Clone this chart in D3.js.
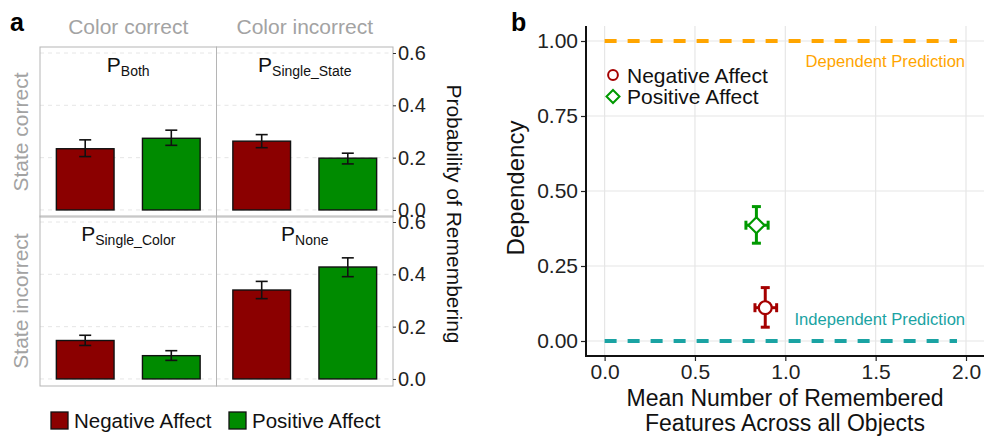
<!DOCTYPE html>
<html>
<head>
<meta charset="utf-8">
<script src="https://cdn.jsdelivr.net/npm/d3@7"></script>
<style>
  body { margin: 0; background: #fff; }
  svg { font-family: "Liberation Sans", Arial, sans-serif; }
</style>
</head>
<body>
<div id="viz"></div>
<script>
var width = 984;
var height = 438;

// ---- panel a data ----
var colFacets = ["Color correct", "Color incorrect"];
var rowFacets = ["State correct", "State incorrect"];
var groups = ["Negative Affect", "Positive Affect"];
var groupColors = ["#8b0000", "#008b00"];
// facet titles: letter + subscript (row-major order)
var cellNames = [
  ["P", "Both"], ["P", "Single_State"],
  ["P", "Single_Color"], ["P", "None"]
];
var cellMeans = [
  [0.234, 0.274],
  [0.263, 0.198],
  [0.147, 0.089],
  [0.340, 0.428]
];
var cellLow = [
  [0.204, 0.247],
  [0.238, 0.176],
  [0.128, 0.071],
  [0.307, 0.391]
];
var cellHigh = [
  [0.268, 0.305],
  [0.288, 0.217],
  [0.167, 0.108],
  [0.373, 0.463]
];
var probTicks = [0, 0.2, 0.4, 0.6];

// ---- panel b data ----
var affect = ["Negative Affect", "Positive Affect"];
var affectColors = ["#a50000", "#009900"];
var meanFeatures = [0.889, 0.84];
var featLow = [0.832, 0.782];
var featHigh = [0.952, 0.905];
var dependency = [0.111, 0.386];
var depLow = [0.046, 0.326];
var depHigh = [0.178, 0.448];
var depTicks = [0, 0.25, 0.5, 0.75, 1];
var featTicks = [0, 0.5, 1, 1.5, 2];
var predictions = ["Dependent Prediction", "Independent Prediction"];
var predValues = [1, 0];
var predColors = ["#ffa500", "#1aa3a3"];

var svg = d3.select("#viz").append("svg")
    .attr("width", width)
    .attr("height", height);

// ================= panel a =================
var panelLeft = 40, panelW = 176.5;
var rowTops = [47, 216], panelH = 170;

var x0 = d3.scaleBand().domain(groups).range([0, panelW]).paddingInner(0.33).paddingOuter(0.19);
var yA = d3.scaleLinear().domain([-0.027, 0.623]).range([panelH, 0]);

svg.append("text").attr("x", 10).attr("y", 31)
    .style("font-size", "25px").style("font-weight", "bold").text("a");

colFacets.forEach(function(c, j) {
  svg.append("text")
      .attr("x", panelLeft + panelW * j + panelW / 2)
      .attr("y", 34)
      .attr("text-anchor", "middle")
      .style("font-size", "21px").style("fill", "#a3a3a3")
      .text(c);
});

rowFacets.forEach(function(r, i) {
  svg.append("text")
      .attr("transform", "translate(28," + (rowTops[i] + panelH / 2) + ") rotate(-90)")
      .attr("text-anchor", "middle")
      .style("font-size", "21px").style("fill", "#a3a3a3")
      .text(r);
});

for (var i = 0; i < 2; i++) {
  for (var j = 0; j < 2; j++) {
    var k = i * 2 + j;
    var g = svg.append("g")
        .attr("transform", "translate(" + (panelLeft + panelW * j) + "," + rowTops[i] + ")");

    g.selectAll(".grid").data(probTicks).enter().append("line")
        .attr("x1", 0).attr("x2", panelW)
        .attr("y1", function(d) { return yA(d); })
        .attr("y2", function(d) { return yA(d); })
        .style("stroke", "#e0e0e0").style("stroke-dasharray", "4,4").style("stroke-width", 0.8);

    var rows = groups.map(function(gr, n) {
      return { group: gr, mean: cellMeans[k][n], lo: cellLow[k][n], hi: cellHigh[k][n], color: groupColors[n] };
    });

    g.selectAll(".bar").data(rows).enter().append("rect")
        .attr("x", function(d) { return x0(d.group); })
        .attr("width", x0.bandwidth())
        .attr("y", function(d) { return yA(d.mean); })
        .attr("height", function(d) { return yA(0) - yA(d.mean); })
        .style("fill", function(d) { return d.color; })
        .style("stroke", "#111").style("stroke-width", 1.4);

    var eb = g.selectAll(".err").data(rows).enter().append("g")
        .style("stroke", "#111").style("stroke-width", 1.6);
    eb.append("line")
        .attr("x1", function(d) { return x0(d.group) + x0.bandwidth() / 2; })
        .attr("x2", function(d) { return x0(d.group) + x0.bandwidth() / 2; })
        .attr("y1", function(d) { return yA(d.lo); })
        .attr("y2", function(d) { return yA(d.hi); });
    ["lo", "hi"].forEach(function(p) {
      eb.append("line")
          .attr("x1", function(d) { return x0(d.group) + x0.bandwidth() / 2 - 6; })
          .attr("x2", function(d) { return x0(d.group) + x0.bandwidth() / 2 + 6; })
          .attr("y1", function(d) { return yA(d[p]); })
          .attr("y2", function(d) { return yA(d[p]); });
    });

    var lab = g.append("text")
        .attr("x", panelW / 2).attr("y", 25)
        .attr("text-anchor", "middle")
        .style("font-size", "21px").style("fill", "#111");
    lab.append("tspan").text(cellNames[k][0]);
    lab.append("tspan").attr("dy", 4).style("font-size", "14px").text(cellNames[k][1]);

    g.append("rect")
        .attr("width", panelW).attr("height", panelH)
        .style("fill", "none").style("stroke", "#b5b5b5").style("stroke-width", 1);
  }

  var axisG = svg.append("g")
      .attr("transform", "translate(" + (panelLeft + panelW * 2) + "," + rowTops[i] + ")")
      .call(d3.axisRight(yA).tickValues(probTicks).tickFormat(d3.format(".1f")).tickSize(3).tickPadding(2));
  axisG.select(".domain").remove();
  axisG.selectAll("line").style("stroke", "#333");
  axisG.selectAll("text").style("font-size", "20px").style("fill", "#222")
      .style("font-family", "Liberation Sans, Arial, sans-serif");
}

svg.append("text")
    .attr("transform", "translate(447,214) rotate(90)")
    .attr("text-anchor", "middle")
    .style("font-size", "21px").style("fill", "#111")
    .text("Probability of Remembering");

// legend a
var legA = svg.append("g").attr("transform", "translate(51,412)");
var legItems = legA.selectAll("g").data(groups).enter().append("g")
    .attr("transform", function(d, n) { return "translate(" + (n * 178) + ",0)"; });
legItems.append("rect").attr("width", 17).attr("height", 17)
    .style("fill", function(d, n) { return groupColors[n]; })
    .style("stroke", "#111").style("stroke-width", 1.3);
legItems.append("text").attr("x", 23).attr("y", 16)
    .style("font-size", "20.5px").style("fill", "#111")
    .text(function(d) { return d; });

// ================= panel b =================
var bLeft = 586, bTop = 26, bRight = 990, bBottom = 356;
var xB = d3.scaleLinear().domain([-0.103, 2.1]).range([bLeft, bLeft + 2.203 * 180.7]);
var yB = d3.scaleLinear().domain([-0.05, 1.05]).range([bBottom, bTop]);

svg.append("text").attr("x", 511).attr("y", 31)
    .style("font-size", "25px").style("font-weight", "bold").text("b");

var gb = svg.append("g");
gb.selectAll(".hgrid").data(depTicks).enter().append("line")
    .attr("x1", bLeft).attr("x2", bRight)
    .attr("y1", function(d) { return yB(d); }).attr("y2", function(d) { return yB(d); })
    .style("stroke", "#e6e6e6").style("stroke-width", 1.2);
gb.selectAll(".vgrid").data(featTicks).enter().append("line")
    .attr("x1", function(d) { return xB(d); }).attr("x2", function(d) { return xB(d); })
    .attr("y1", bTop).attr("y2", bBottom)
    .style("stroke", "#e6e6e6").style("stroke-width", 1.2);

// prediction lines
predValues.forEach(function(v, n) {
  gb.append("line")
      .attr("x1", xB(0)).attr("x2", xB(1.95))
      .attr("y1", yB(v)).attr("y2", yB(v))
      .style("stroke", predColors[n]).style("stroke-width", 4)
      .style("stroke-dasharray", "12,11");
});
gb.append("text").attr("x", xB(1.995)).attr("y", yB(0.913))
    .attr("text-anchor", "end").style("font-size", "16.6px").style("fill", predColors[0])
    .text(predictions[0]);
gb.append("text").attr("x", xB(1.995)).attr("y", yB(0.053))
    .attr("text-anchor", "end").style("font-size", "16.6px").style("fill", predColors[1])
    .text(predictions[1]);

// points with error bars
var pts = affect.map(function(a, n) {
  return { name: a, x: meanFeatures[n], y: dependency[n], xl: featLow[n], xh: featHigh[n],
           yl: depLow[n], yh: depHigh[n], color: affectColors[n], shape: n };
});
var pg = gb.selectAll(".pt").data(pts).enter().append("g")
    .style("stroke", function(d) { return d.color; });
pg.append("line")
    .attr("x1", function(d) { return xB(d.x); }).attr("x2", function(d) { return xB(d.x); })
    .attr("y1", function(d) { return yB(d.yl); }).attr("y2", function(d) { return yB(d.yh); })
    .style("stroke-width", 3);
pg.append("line")
    .attr("x1", function(d) { return xB(d.xl); }).attr("x2", function(d) { return xB(d.xh); })
    .attr("y1", function(d) { return yB(d.y); }).attr("y2", function(d) { return yB(d.y); })
    .style("stroke-width", 3);
["yl", "yh"].forEach(function(p) {
  pg.append("line")
      .attr("x1", function(d) { return xB(d.x) - 4.5; }).attr("x2", function(d) { return xB(d.x) + 4.5; })
      .attr("y1", function(d) { return yB(d[p]); }).attr("y2", function(d) { return yB(d[p]); })
      .style("stroke-width", 3);
});
["xl", "xh"].forEach(function(p) {
  pg.append("line")
      .attr("x1", function(d) { return xB(d[p]); }).attr("x2", function(d) { return xB(d[p]); })
      .attr("y1", function(d) { return yB(d.y) - 4.5; }).attr("y2", function(d) { return yB(d.y) + 4.5; })
      .style("stroke-width", 3);
});
function symPath(shape) {
  return shape === 0
    ? d3.symbol().type(d3.symbolCircle).size(130)()
    : "M0,-8L8,0L0,8L-8,0Z";
}
pg.append("path")
    .attr("transform", function(d) { return "translate(" + xB(d.x) + "," + yB(d.y) + ")"; })
    .attr("d", function(d) { return symPath(d.shape); })
    .style("fill", "#fff").style("stroke-width", 2.2);

// legend b
var legB = gb.selectAll(".legb").data(pts).enter().append("g")
    .attr("transform", function(d, n) { return "translate(613," + (75 + n * 21.5) + ")"; });
legB.append("path")
    .attr("d", function(d) { return d.shape === 0 ? d3.symbol().type(d3.symbolCircle).size(75)() : "M0,-6.5L6.5,0L0,6.5L-6.5,0Z"; })
    .style("fill", "none").style("stroke", function(d) { return d.color; }).style("stroke-width", 2);
legB.append("text").attr("x", 14).attr("y", 7.5)
    .style("font-size", "21px").style("fill", "#111")
    .text(function(d) { return d.name; });

// axes b
var yAx = svg.append("g").attr("transform", "translate(" + bLeft + ",0)")
    .call(d3.axisLeft(yB).tickValues(depTicks).tickFormat(d3.format(".2f")).tickSize(5).tickPadding(3));
var xAx = svg.append("g").attr("transform", "translate(0," + bBottom + ")")
    .call(d3.axisBottom(xB).tickValues(featTicks).tickFormat(d3.format(".1f")).tickSize(5).tickPadding(3));
[yAx, xAx].forEach(function(ax) {
  ax.select(".domain").remove();
  ax.selectAll("line").style("stroke", "#222").style("stroke-width", 1.2);
  ax.selectAll("text").style("font-size", "21px").style("fill", "#222")
      .style("font-family", "Liberation Sans, Arial, sans-serif");
});
svg.append("line").attr("x1", bLeft).attr("x2", bLeft).attr("y1", bTop).attr("y2", bBottom + 1)
    .style("stroke", "#111").style("stroke-width", 2);
svg.append("line").attr("x1", bLeft - 1).attr("x2", width).attr("y1", bBottom).attr("y2", bBottom)
    .style("stroke", "#111").style("stroke-width", 2);

svg.append("text")
    .attr("transform", "translate(524,188) rotate(-90)")
    .attr("text-anchor", "middle")
    .style("font-size", "24px").style("fill", "#111")
    .text("Dependency");
var xt = svg.append("text").attr("text-anchor", "middle")
    .style("font-size", "23px").style("fill", "#111");
xt.append("tspan").attr("x", 785).attr("y", 406).text("Mean Number of Remembered");
xt.append("tspan").attr("x", 785).attr("y", 431).text("Features Across all Objects");
</script>
</body>
</html>
